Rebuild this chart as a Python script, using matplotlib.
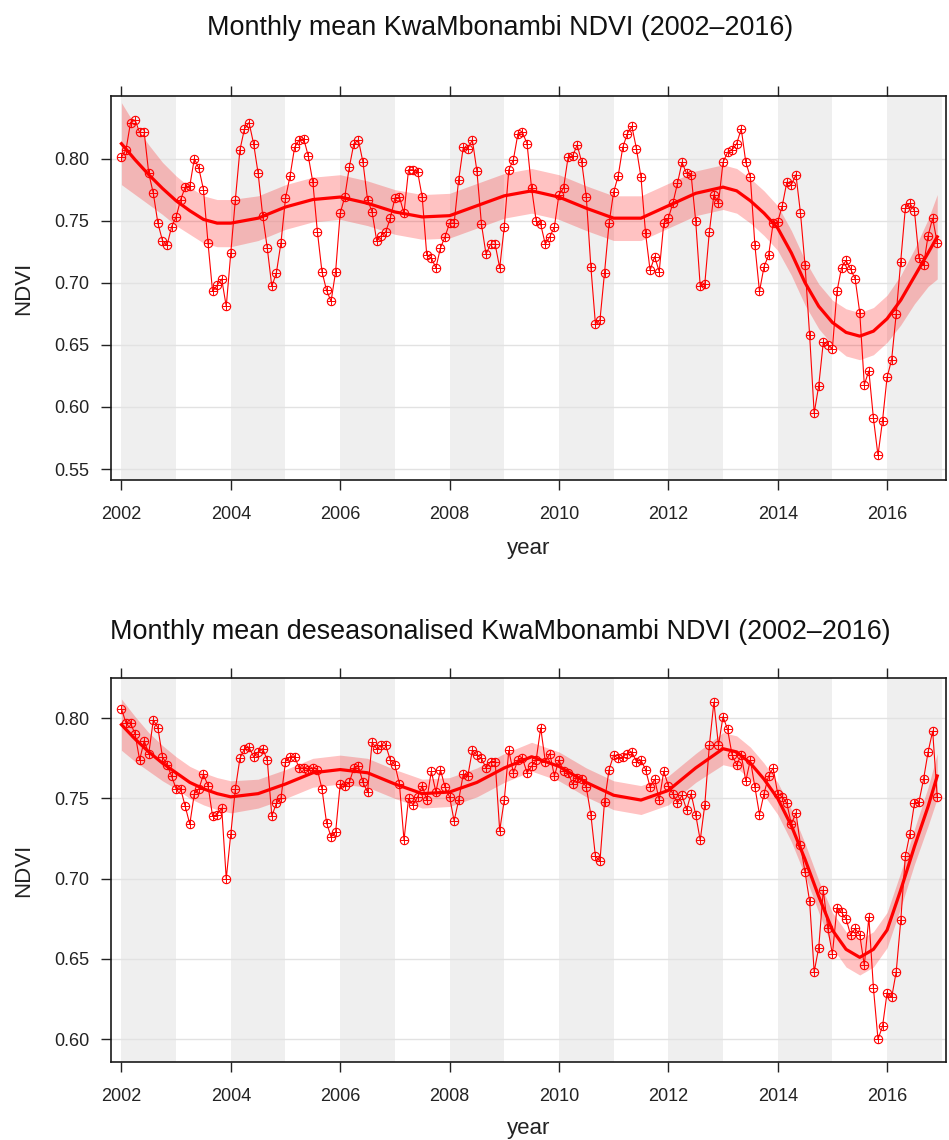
import numpy as np
import matplotlib
matplotlib.use("Agg")
import matplotlib.pyplot as plt

plt.rcParams['font.family'] = ['Liberation Sans', 'DejaVu Sans']

# monthly NDVI, Jan 2002 .. Dec 2016 (one row per year)
ndvi = [
    0.801, 0.807, 0.829, 0.831, 0.821, 0.821, 0.788, 0.772, 0.748, 0.734, 0.730, 0.745,
    0.753, 0.767, 0.777, 0.778, 0.800, 0.792, 0.775, 0.732, 0.693, 0.698, 0.703, 0.681,
    0.724, 0.767, 0.807, 0.824, 0.829, 0.812, 0.788, 0.754, 0.728, 0.697, 0.708, 0.732,
    0.768, 0.786, 0.809, 0.815, 0.816, 0.802, 0.781, 0.741, 0.709, 0.694, 0.685, 0.709,
    0.756, 0.769, 0.793, 0.812, 0.815, 0.797, 0.767, 0.757, 0.734, 0.738, 0.741, 0.752,
    0.768, 0.769, 0.756, 0.791, 0.791, 0.789, 0.769, 0.722, 0.720, 0.712, 0.728, 0.737,
    0.748, 0.748, 0.783, 0.809, 0.808, 0.815, 0.790, 0.747, 0.723, 0.731, 0.731, 0.712,
    0.745, 0.791, 0.799, 0.820, 0.821, 0.812, 0.776, 0.750, 0.747, 0.731, 0.737, 0.745,
    0.771, 0.776, 0.801, 0.802, 0.811, 0.797, 0.769, 0.713, 0.667, 0.670, 0.708, 0.748,
    0.773, 0.786, 0.809, 0.820, 0.826, 0.808, 0.785, 0.740, 0.710, 0.721, 0.709, 0.748,
    0.752, 0.764, 0.780, 0.797, 0.788, 0.787, 0.750, 0.697, 0.699, 0.741, 0.771, 0.764,
    0.797, 0.805, 0.807, 0.812, 0.824, 0.797, 0.785, 0.730, 0.693, 0.713, 0.722, 0.748,
    0.749, 0.762, 0.781, 0.779, 0.787, 0.756, 0.714, 0.658, 0.595, 0.617, 0.652, 0.650,
    0.647, 0.693, 0.712, 0.718, 0.711, 0.703, 0.676, 0.618, 0.629, 0.591, 0.561, 0.589,
    0.624, 0.638, 0.675, 0.717, 0.760, 0.764, 0.758, 0.720, 0.714, 0.738, 0.752, 0.732,
]

# deseasonalised monthly NDVI
ndvi_ds = [
    0.806, 0.797, 0.797, 0.790, 0.774, 0.786, 0.778, 0.799, 0.794, 0.776, 0.771, 0.764,
    0.756, 0.756, 0.745, 0.734, 0.753, 0.756, 0.765, 0.758, 0.739, 0.740, 0.744, 0.700,
    0.728, 0.756, 0.775, 0.781, 0.782, 0.776, 0.779, 0.781, 0.774, 0.739, 0.747, 0.750,
    0.773, 0.776, 0.776, 0.769, 0.769, 0.768, 0.769, 0.768, 0.756, 0.735, 0.726, 0.729,
    0.759, 0.758, 0.760, 0.769, 0.770, 0.760, 0.754, 0.785, 0.781, 0.783, 0.783, 0.774,
    0.771, 0.759, 0.724, 0.750, 0.746, 0.751, 0.758, 0.749, 0.767, 0.754, 0.768, 0.757,
    0.751, 0.736, 0.749, 0.765, 0.764, 0.780, 0.777, 0.775, 0.769, 0.773, 0.773, 0.730,
    0.749, 0.780, 0.766, 0.774, 0.775, 0.766, 0.770, 0.774, 0.794, 0.773, 0.778, 0.764,
    0.774, 0.767, 0.766, 0.759, 0.763, 0.762, 0.757, 0.740, 0.714, 0.711, 0.748, 0.768,
    0.777, 0.775, 0.776, 0.778, 0.779, 0.773, 0.774, 0.768, 0.757, 0.762, 0.749, 0.767,
    0.758, 0.753, 0.747, 0.752, 0.743, 0.753, 0.740, 0.724, 0.746, 0.783, 0.810, 0.783,
    0.801, 0.793, 0.777, 0.771, 0.777, 0.761, 0.774, 0.757, 0.740, 0.753, 0.764, 0.769,
    0.753, 0.751, 0.747, 0.734, 0.741, 0.721, 0.704, 0.686, 0.642, 0.657, 0.693, 0.669,
    0.653, 0.682, 0.679, 0.675, 0.665, 0.669, 0.665, 0.646, 0.676, 0.632, 0.600, 0.608,
    0.629, 0.626, 0.642, 0.674, 0.714, 0.728, 0.747, 0.748, 0.762, 0.779, 0.792, 0.751,
]

# smooth trend and its confidence half-width
trend_x = [2002.0, 2002.25, 2002.5, 2002.75, 2003.0, 2003.25, 2003.5, 2003.75,
           2004.0, 2004.5, 2005.0, 2005.5, 2006.0, 2006.5, 2007.0, 2007.5,
           2008.0, 2008.5, 2009.0, 2009.5, 2010.0, 2010.5, 2011.0, 2011.5,
           2012.0, 2012.5, 2013.0, 2013.25, 2013.5, 2013.75, 2014.0, 2014.25,
           2014.5, 2014.75, 2015.0, 2015.25, 2015.5, 2015.75, 2016.0, 2016.25,
           2016.5, 2016.75, 2016.917]
trend = [0.812, 0.799, 0.787, 0.776, 0.766, 0.758, 0.751, 0.748,
         0.748, 0.752, 0.761, 0.767, 0.769, 0.764, 0.757, 0.753,
         0.754, 0.762, 0.770, 0.774, 0.769, 0.760, 0.752, 0.752,
         0.762, 0.772, 0.777, 0.774, 0.766, 0.756, 0.744, 0.724,
         0.700, 0.681, 0.668, 0.660, 0.657, 0.661, 0.671, 0.686,
         0.705, 0.724, 0.737]
trend_se = [0.033, 0.028, 0.024, 0.021, 0.020, 0.019, 0.019, 0.019,
            0.019, 0.018, 0.018, 0.018, 0.018, 0.018, 0.018, 0.018,
            0.018, 0.018, 0.018, 0.018, 0.018, 0.018, 0.018, 0.018,
            0.018, 0.018, 0.018, 0.018, 0.018, 0.018, 0.018, 0.018,
            0.018, 0.018, 0.018, 0.019, 0.019, 0.019, 0.019, 0.020,
            0.022, 0.027, 0.034]
trend_ds = [0.796, 0.787, 0.779, 0.772, 0.766, 0.760, 0.756, 0.753,
            0.751, 0.753, 0.759, 0.766, 0.768, 0.766, 0.759, 0.753,
            0.754, 0.760, 0.769, 0.776, 0.770, 0.760, 0.752, 0.749,
            0.755, 0.769, 0.781, 0.779, 0.772, 0.762, 0.750, 0.733,
            0.712, 0.689, 0.668, 0.656, 0.651, 0.656, 0.668, 0.693,
            0.720, 0.745, 0.764]
trend_ds_se = [0.016, 0.014, 0.012, 0.011, 0.010, 0.010, 0.010, 0.010,
               0.010, 0.009, 0.009, 0.009, 0.009, 0.009, 0.009, 0.009,
               0.009, 0.009, 0.009, 0.009, 0.009, 0.009, 0.009, 0.009,
               0.009, 0.009, 0.010, 0.010, 0.010, 0.010, 0.010, 0.010,
               0.010, 0.010, 0.011, 0.011, 0.011, 0.011, 0.011, 0.011,
               0.011, 0.012, 0.014]

year_ticks = [2002, 2004, 2006, 2008, 2010, 2012, 2014, 2016]

months = 2002 + np.arange(len(ndvi)) / 12.0
red = '#ff0000'


def panel(ax, y, tx, ty, tse, ylim, yticks):
    ax.set_xlim(2001.81, 2017.08)
    ax.set_ylim(*ylim)
    # alternate grey year bands
    for yr in range(2002, 2017, 2):
        ax.axvspan(yr, yr + 1, color='#efefef', lw=0, zorder=0)
    for v in yticks:
        ax.axhline(v, color='#e2e2e2', lw=1, zorder=1)

    tx = np.array(tx)
    ty = np.array(ty)
    tse = np.array(tse)
    ax.fill_between(tx, ty - tse, ty + tse, color=red, alpha=0.24, lw=0, zorder=2)
    ax.plot(tx, ty, color=red, lw=2.3, zorder=3, solid_joinstyle='round')

    ax.plot(months, y, color=red, lw=0.8, marker='o', ms=6, mfc='none',
            mec=red, mew=0.8, zorder=4)
    ax.plot(months, y, ls='none', marker='+', ms=6, mec=red, mew=0.7, zorder=4)

    ax.set_xticks(year_ticks)
    ax.set_yticks(yticks)
    ax.set_yticklabels(['%.2f' % v for v in yticks])
    ax.tick_params(direction='out', length=7, width=1, labelsize=13,
                   colors='#222222', top=True, labeltop=False)
    ax.tick_params(axis='y', pad=8.5)
    ax.tick_params(axis='x', pad=12)
    for s in ax.spines.values():
        s.set_linewidth(1.2)
        s.set_color('#1a1a1a')


fig = plt.figure(figsize=(9.49, 11.4), dpi=100)
ax1 = fig.add_axes([0.1170, 0.5789, 0.8800, 0.3368])
ax2 = fig.add_axes([0.1170, 0.0684, 0.8800, 0.3368])

panel(ax1, ndvi, trend_x, trend, trend_se, (0.5411, 0.8503),
      [0.55, 0.60, 0.65, 0.70, 0.75, 0.80])
panel(ax2, ndvi_ds, trend_x, trend_ds, trend_ds_se, (0.5858, 0.825),
      [0.60, 0.65, 0.70, 0.75, 0.80])

for ax, ylab in [(ax1, -0.177), (ax2, -0.172)]:
    ax.set_xlabel('year', fontsize=16, color='#222222')
    ax.xaxis.set_label_coords(0.5, ylab)
    ax.xaxis.label.set_va('center')
    ax.set_ylabel('NDVI', fontsize=16, color='#222222')
    ax.yaxis.set_label_coords(-0.105, 0.5)
    ax.yaxis.label.set_va('center')

fig.text(0.527, 0.9754, 'Monthly mean KwaMbonambi NDVI (2002\u20132016)',
         ha='center', va='center', fontsize=19.4, color='#111111')
fig.text(0.527, 0.4456, 'Monthly mean deseasonalised KwaMbonambi NDVI (2002\u20132016)',
         ha='center', va='center', fontsize=19.4, color='#111111')

fig.savefig('out.png', dpi=100)
